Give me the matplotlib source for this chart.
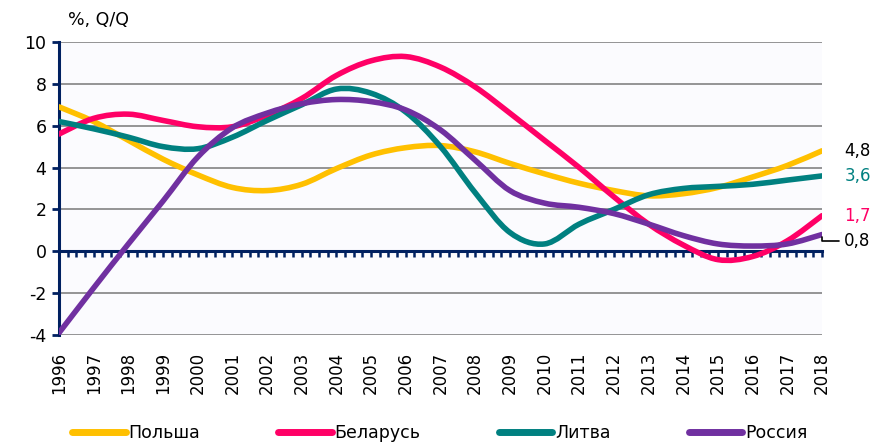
import numpy as np
import matplotlib
matplotlib.use("Agg")
import matplotlib.pyplot as plt
from matplotlib.path import Path
from matplotlib.patches import PathPatch
from matplotlib.lines import Line2D

plt.rcParams.update({"font.family": ["DejaVu Sans"], "font.size": 12,
                     "axes.unicode_minus": False})

years = list(range(1996, 2019))
poland = [6.9, 6.2, 5.3, 4.4, 3.65, 3.05, 2.9, 3.2, 3.95, 4.6, 4.95, 5.05, 4.75,
          4.2, 3.7, 3.25, 2.9, 2.65, 2.75, 3.05, 3.55, 4.1, 4.8]
belarus = [5.6, 6.35, 6.55, 6.25, 5.95, 5.95, 6.5, 7.3, 8.4, 9.1, 9.3, 8.8, 7.85,
           6.6, 5.3, 4.0, 2.6, 1.3, 0.3, -0.4, -0.25, 0.5, 1.7]
lithuania = [6.2, 5.85, 5.45, 5.0, 4.9, 5.45, 6.25, 7.0, 7.75, 7.55, 6.65, 5.0, 2.8,
             0.9, 0.35, 1.3, 2.0, 2.7, 3.0, 3.1, 3.2, 3.4, 3.6]
russia = [-3.9, -1.75, 0.35, 2.4, 4.5, 5.9, 6.6, 7.05, 7.25, 7.15, 6.75, 5.8, 4.35,
          2.9, 2.3, 2.1, 1.8, 1.3, 0.75, 0.35, 0.25, 0.35, 0.8]
names = ["Польша", "Беларусь", "Литва", "Россия"]
end_labels = ["4,8", "3,6", "1,7", "0,8"]

NAVY = "#002060"
COLS = ["#FFC000", "#FF0066", "#008080", "#7030A0"]
LBLCOL = ["black", "#008080", "#FF0066", "black"]


def smooth_path(x, y):
    # excel-like smoothed line: cubic bezier through the points (catmull-rom, 1/6)
    x = np.asarray(x, float); y = np.asarray(y, float)
    P = np.column_stack([x, y])
    n = len(P)
    verts = [P[0]]; codes = [Path.MOVETO]
    for i in range(n - 1):
        p0 = P[i - 1] if i > 0 else P[i]
        p3 = P[i + 2] if i + 2 < n else P[i + 1]
        c1 = P[i] + (P[i + 1] - p0) / 6
        c2 = P[i + 1] - (p3 - P[i]) / 6
        verts += [c1, c2, P[i + 1]]
        codes += [Path.CURVE4] * 3
    return Path(verts, codes)


fig = plt.figure(figsize=(8.74, 4.44), dpi=100)
ax = fig.add_axes([0.0675, 0.2455, 0.873, 0.66])
ax.set_facecolor("#fbfbfe")
ax.set_xlim(1996, 2018); ax.set_ylim(-4, 10)

ax.set_yticks(range(-4, 11, 2))
for v in range(-4, 11, 2):
    if v != 0:
        ax.axhline(v, color="#8c8c8c", lw=1.3, zorder=1)
for s in ["top", "right", "bottom"]:
    ax.spines[s].set_visible(False)
ax.spines["left"].set_color(NAVY); ax.spines["left"].set_linewidth(2.2)
ax.tick_params(axis="y", colors=NAVY, labelcolor="black", length=5, width=2, pad=4,
               labelsize=12.5)
ax.set_xticks(years)
ax.set_xticklabels([str(y) for y in years], rotation=90)
ax.tick_params(axis="x", length=0, pad=12, labelsize=12)

# zero line with quarter ticks
sec = ax.secondary_xaxis(4 / 14)
sec.spines["bottom"].set_color(NAVY); sec.spines["bottom"].set_linewidth(2.2)
sec.set_xticks(np.arange(1996, 2018.01, 0.25))
sec.tick_params(axis="x", direction="out", length=4.5, width=1.8, colors=NAVY,
                labelbottom=False)

for vals, c in zip([poland, belarus, lithuania, russia], COLS):
    ax.add_patch(PathPatch(smooth_path(years, vals), fc="none", ec=c, lw=4,
                           capstyle="round", zorder=3))

for vals, lab, c in zip([poland, lithuania, belarus], end_labels[:3], LBLCOL[:3]):
    ax.annotate(lab, (years[-1], vals[-1]), xytext=(16, 0), textcoords="offset points",
                va="center", ha="left", color=c, fontsize=12, annotation_clip=False)
ax.annotate(end_labels[3], (years[-1], russia[-1]), xytext=(16, -5),
            textcoords="offset points", va="center", ha="left", color="black",
            fontsize=12, annotation_clip=False,
            arrowprops=dict(arrowstyle="-", color="black", lw=1.2,
                            connectionstyle="angle,angleA=0,angleB=90,rad=0",
                            shrinkA=2, shrinkB=2))

fig.text(0.078, 0.955, "%, Q/Q", fontsize=12.5, va="center", ha="left")

handles = [Line2D([], [], color=c, lw=5, solid_capstyle="round") for c in COLS]
fig.legend(handles, names, loc="center", bbox_to_anchor=(0.503, 0.025), ncol=4,
           frameon=False, handlelength=3.1, handletextpad=0.15, columnspacing=4.5,
           fontsize=12.5)

fig.savefig("out.png", dpi=100, facecolor="white")
